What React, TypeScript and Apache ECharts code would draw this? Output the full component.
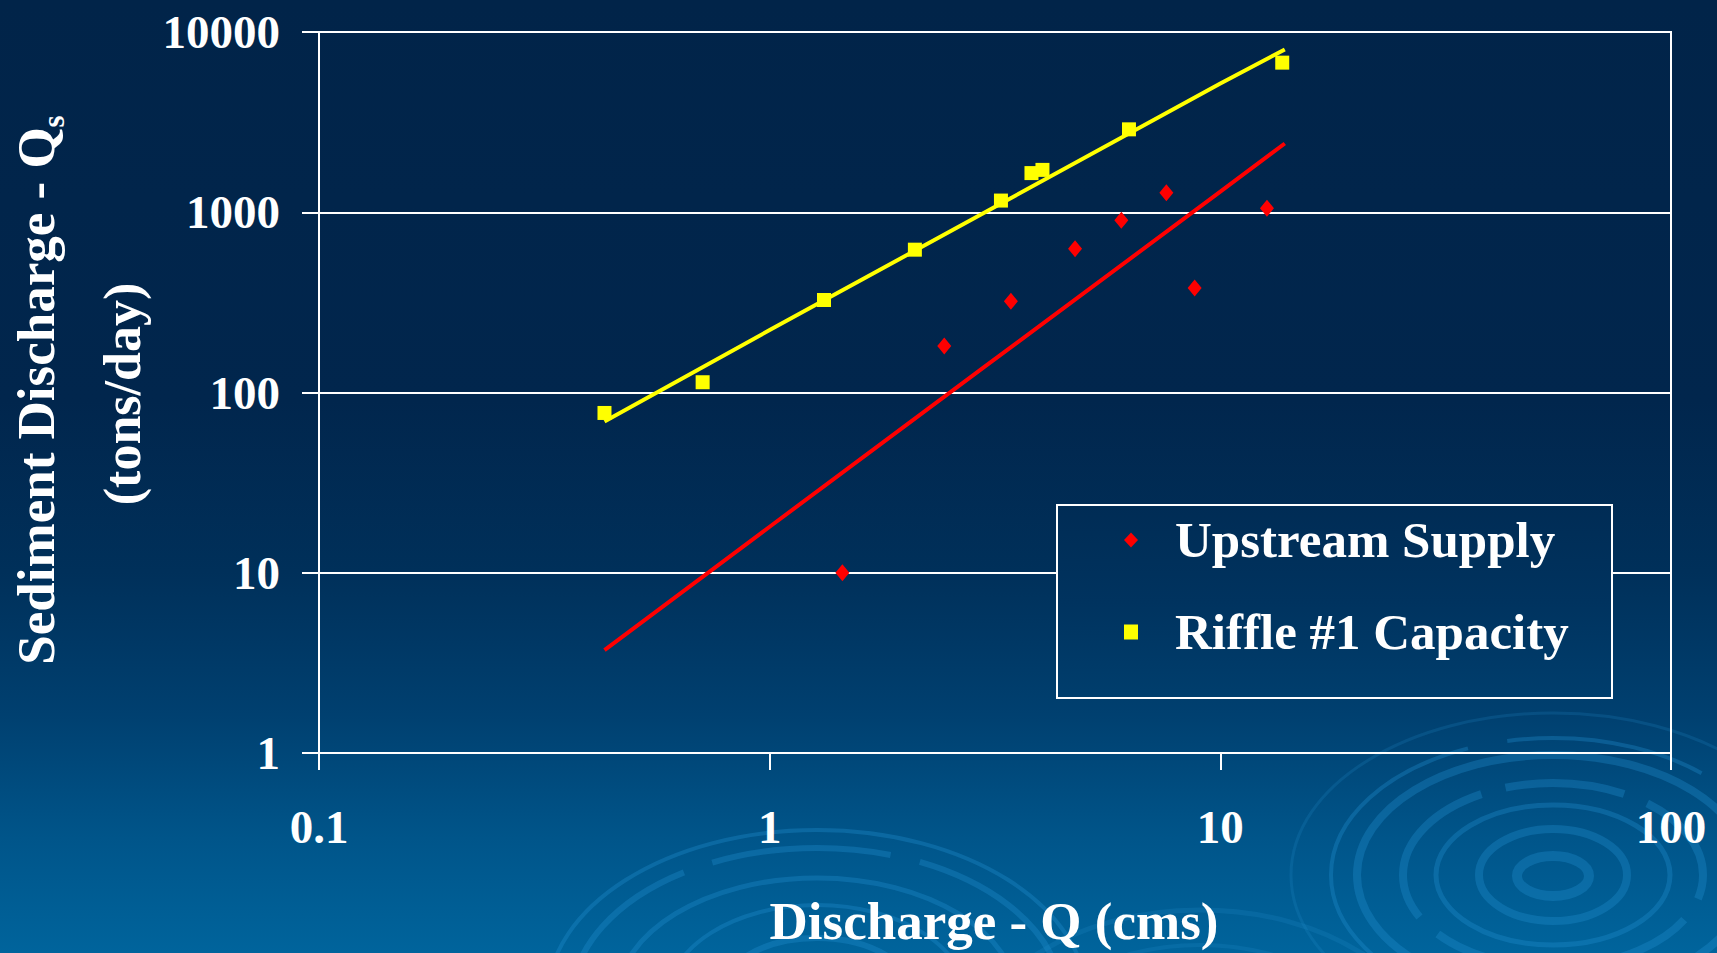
import React, { useEffect, useRef } from "react";
import * as echarts from "echarts";

// ---- data ----
const X_TICKS = [0.1, 1, 10, 100];
const Y_TICKS = [1, 10, 100, 1000, 10000];

const upstreamQ = [1.45, 2.44, 3.43, 4.76, 6.03, 7.59, 8.77, 12.69];
const upstreamQs = [10, 181, 321, 628, 904, 1282, 380, 1054];

const riffleQ = [0.43, 0.71, 1.32, 2.1, 3.26, 3.81, 4.03, 6.27, 13.72];
const riffleQs = [77, 114, 326, 620, 1161, 1649, 1718, 2884, 6761];

const upstreamFitQ = [0.43, 1, 3, 10, 13.9];
const upstreamFitQs = [3.72, 18, 139, 1300, 2406];

const riffleFitQ = [0.43, 1, 3.3, 10, 13.9];
const riffleFitQs = [69, 222, 1136, 5180, 8000];

const SERIES_NAMES = ["Upstream Supply", "Riffle #1 Capacity"];

// ---- styling ----
const W = 1717;
const H = 953;
const FONT = "'Liberation Serif', 'Times New Roman', serif";

const BG_STOPS: [number, number[]][] = [
  [0, [1, 36, 73]],
  [0.42, [1, 38, 77]],
  [0.6, [0, 48, 90]],
  [0.75, [0, 64, 112]],
  [0.88, [0, 85, 138]],
  [1, [0, 100, 156]],
];

function bgAt(y: number): string {
  const t = Math.max(0, Math.min(1, y / H));
  for (let i = 0; i < BG_STOPS.length - 1; i++) {
    const [t0, c0] = BG_STOPS[i];
    const [t1, c1] = BG_STOPS[i + 1];
    if (t >= t0 && t <= t1) {
      const f = (t - t0) / (t1 - t0);
      const c = c0.map((v, k) => Math.round(v + (c1[k] - v) * f));
      return `rgb(${c[0]},${c[1]},${c[2]})`;
    }
  }
  const c = BG_STOPS[BG_STOPS.length - 1][1];
  return `rgb(${c[0]},${c[1]},${c[2]})`;
}

const cssGradient =
  "linear-gradient(to bottom, " +
  BG_STOPS.map(([t, c]) => `rgb(${c[0]},${c[1]},${c[2]}) ${t * 100}%`).join(", ") +
  ")";

const zip = (xs: number[], ys: number[]) => xs.map((x, i) => [x, ys[i]]);

const fmt = (v: number) => String(parseFloat(v.toPrecision(6)));

const RING = "rgba(35,145,210,0.32)";

type Ring = { cx: number; cy: number; rx: number; ry: number; lw: number; dash?: number[]; op?: number };
const RINGS: Ring[] = [
  { cx: 1553, cy: 876, rx: 36, ry: 20, lw: 10 },
  { cx: 1553, cy: 875, rx: 74, ry: 46, lw: 8 },
  { cx: 1553, cy: 875, rx: 117, ry: 70, lw: 5 },
  { cx: 1553, cy: 875, rx: 150, ry: 92, lw: 8, dash: [120, 25] },
  { cx: 1553, cy: 875, rx: 196, ry: 120, lw: 8 },
  { cx: 1553, cy: 875, rx: 222, ry: 137, lw: 4, dash: [200, 40] },
  { cx: 1553, cy: 875, rx: 262, ry: 162, lw: 3, op: 0.6 },
  { cx: 817, cy: 1000, rx: 270, ry: 170, lw: 4 },
  { cx: 817, cy: 1000, rx: 245, ry: 152, lw: 6, dash: [180, 30] },
  { cx: 817, cy: 1000, rx: 200, ry: 122, lw: 5 },
  { cx: 817, cy: 1000, rx: 150, ry: 95, lw: 4 },
  { cx: 817, cy: 1000, rx: 100, ry: 62, lw: 6 },
  { cx: 1200, cy: 1060, rx: 230, ry: 150, lw: 5, op: 0.6 },
  { cx: 1200, cy: 1060, rx: 180, ry: 115, lw: 4, op: 0.6 },
];

export default function App() {
  const ref = useRef<HTMLDivElement>(null);

  useEffect(() => {
    if (!ref.current) return;
    const chart = echarts.init(ref.current, null, { renderer: "svg" });

    const ringEls = RINGS.map((r) => ({
      type: "ellipse",
      silent: true,
      z: -1,
      shape: { cx: r.cx, cy: r.cy, rx: r.rx, ry: r.ry },
      style: {
        fill: "none",
        stroke: RING,
        lineWidth: r.lw,
        lineDash: r.dash,
        opacity: r.op ?? 1,
      },
    }));

    const legendBox = { x: 1057, y: 505, w: 555, h: 193 };

    const option: any = {
      animation: false,
      backgroundColor: "transparent",
      grid: {
        left: 319,
        right: 46,
        top: 32,
        bottom: 200,
        show: true,
        borderColor: "#ffffff",
        borderWidth: 2,
        backgroundColor: "transparent",
        containLabel: false,
        outerBoundsMode: "none",
      },
      xAxis: {
        type: "log",
        logBase: 10,
        min: X_TICKS[0],
        max: X_TICKS[X_TICKS.length - 1],
        axisLine: { show: true, lineStyle: { color: "#ffffff", width: 2 } },
        axisTick: { show: true, length: 17, inside: false, lineStyle: { color: "#ffffff", width: 2 } },
        minorTick: { show: false },
        splitLine: { show: false },
        axisLabel: {
          show: true,
          showMinLabel: true,
          showMaxLabel: true,
          color: "#ffffff",
          fontSize: 47,
          lineHeight: 47,
          fontWeight: "bold",
          fontFamily: FONT,
          margin: 50,
          formatter: fmt,
        },
      },
      yAxis: {
        type: "log",
        logBase: 10,
        min: Y_TICKS[0],
        max: Y_TICKS[Y_TICKS.length - 1],
        axisLine: { show: true, lineStyle: { color: "#ffffff", width: 2 } },
        axisTick: { show: true, length: 17, inside: false, lineStyle: { color: "#ffffff", width: 2 } },
        minorTick: { show: false },
        splitLine: { show: true, lineStyle: { color: "#ffffff", width: 2 } },
        axisLabel: {
          show: true,
          showMinLabel: true,
          showMaxLabel: true,
          color: "#ffffff",
          fontSize: 47,
          lineHeight: 47,
          fontWeight: "bold",
          fontFamily: FONT,
          margin: 39,
          formatter: fmt,
        },
      },
      legend: {
        orient: "vertical",
        left: 1124,
        top: 510,
        padding: 0,
        itemGap: 32,
        itemWidth: 14,
        itemHeight: 15,
        selectedMode: false,
        z: 10,
        data: [
          { name: SERIES_NAMES[0], icon: "diamond", itemStyle: { color: "#ff0000", opacity: 1 } },
          { name: SERIES_NAMES[1], icon: "rect", itemStyle: { color: "#ffff00", opacity: 1 } },
        ],
        textStyle: {
          color: "#ffffff",
          fontSize: 51,
          fontWeight: "bold",
          fontFamily: FONT,
          lineHeight: 60,
          padding: [0, 0, 0, 32],
        },
      },
      graphic: {
        elements: [
          ...ringEls,
          {
            type: "rect",
            silent: true,
            z: 5,
            shape: { x: legendBox.x, y: legendBox.y, width: legendBox.w, height: legendBox.h },
            style: {
              fill: new echarts.graphic.LinearGradient(0, 0, 0, 1, [
                { offset: 0, color: bgAt(legendBox.y) },
                { offset: 0.5, color: bgAt(legendBox.y + legendBox.h / 2) },
                { offset: 1, color: bgAt(legendBox.y + legendBox.h) },
              ]),
              stroke: "#ffffff",
              lineWidth: 2,
            },
          },
          {
            type: "text",
            silent: true,
            x: 36,
            y: 390,
            rotation: Math.PI / 2,
            z: 10,
            style: {
              text: "{m|Sediment Discharge - Q}{s|s}",
              textAlign: "center",
              textVerticalAlign: "middle",
              fill: "#ffffff",
              rich: {
                m: { fontSize: 53, lineHeight: 60, fontWeight: "bold", fontFamily: FONT, fill: "#ffffff" },
                s: { fontSize: 31, lineHeight: 31, fontWeight: "bold", fontFamily: FONT, fill: "#ffffff", padding: [34, 0, 0, 0] },
              },
            },
          },
          {
            type: "text",
            silent: true,
            x: 122,
            y: 394,
            rotation: Math.PI / 2,
            z: 10,
            style: {
              text: "(tons/day)",
              textAlign: "center",
              textVerticalAlign: "middle",
              fill: "#ffffff",
              fontSize: 52,
              fontWeight: "bold",
              fontFamily: FONT,
            },
          },
          {
            type: "text",
            silent: true,
            x: 994,
            y: 921,
            z: 10,
            style: {
              text: "Discharge - Q (cms)",
              textAlign: "center",
              textVerticalAlign: "middle",
              fill: "#ffffff",
              fontSize: 53,
              fontWeight: "bold",
              fontFamily: FONT,
            },
          },
        ],
      },
      series: [
        {
          name: "Upstream Supply trend",
          type: "line",
          data: zip(upstreamFitQ, upstreamFitQs),
          symbol: "none",
          showSymbol: false,
          lineStyle: { color: "#ff0000", width: 4 },
          z: 2,
          silent: true,
        },
        {
          name: "Riffle #1 Capacity trend",
          type: "line",
          data: zip(riffleFitQ, riffleFitQs),
          symbol: "none",
          showSymbol: false,
          lineStyle: { color: "#ffff00", width: 4 },
          z: 2,
          silent: true,
        },
        {
          name: SERIES_NAMES[0],
          type: "scatter",
          data: zip(upstreamQ, upstreamQs),
          symbol: "diamond",
          symbolSize: [14, 17],
          itemStyle: { color: "#ff0000", opacity: 1 },
          z: 3,
        },
        {
          name: SERIES_NAMES[1],
          type: "scatter",
          data: zip(riffleQ, riffleQs),
          symbol: "rect",
          symbolSize: 14,
          itemStyle: { color: "#ffff00", opacity: 1 },
          z: 3,
        },
      ],
    };

    chart.setOption(option);
    return () => chart.dispose();
  }, []);

  return (
    <div
      style={{
        position: "fixed",
        left: 0,
        top: 0,
        width: W,
        height: H,
        background: cssGradient,
        overflow: "hidden",
      }}
    >
      <div ref={ref} style={{ width: W, height: H }} />
    </div>
  );
}
